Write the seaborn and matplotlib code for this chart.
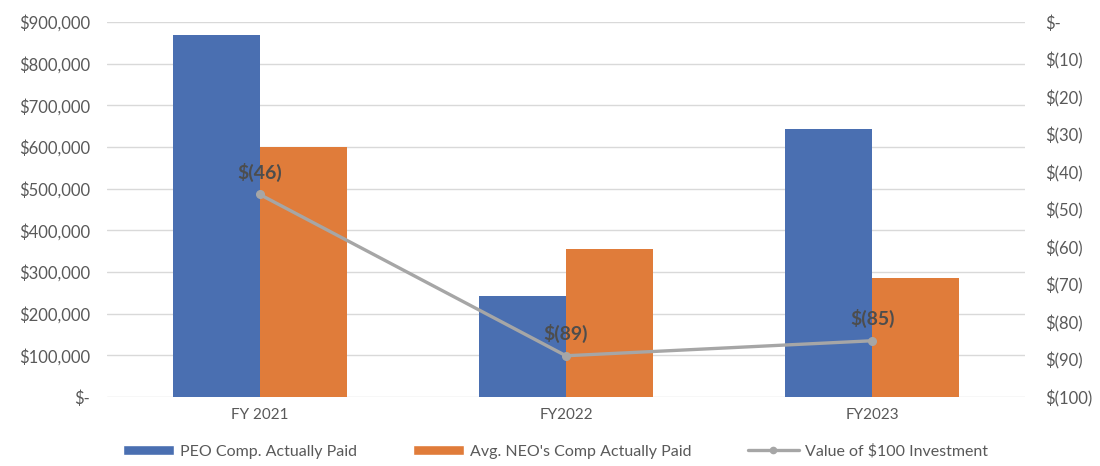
import matplotlib
matplotlib.use("Agg")
import matplotlib.pyplot as plt
import seaborn as sns
import pandas as pd
from matplotlib.patches import Patch
from matplotlib.lines import Line2D

# data
years = ["FY 2021", "FY2022", "FY2023"]
peo_paid = [869000, 243000, 642000]
neo_paid = [599000, 356000, 286000]
tsr_value = [-46, -89, -85]

series_names = ["PEO Comp. Actually Paid", "Avg. NEO's Comp Actually Paid"]
line_name = "Value of $100 Investment"

blue = "#4A6FB1"
orange = "#E07C3A"
grey_line = "#A6A6A6"
txt = "#595959"

df = pd.DataFrame({
    "year": years * 2,
    "series": [series_names[0]] * 3 + [series_names[1]] * 3,
    "value": peo_paid + neo_paid,
})

sns.set_style("white")
plt.rcParams["font.family"] = ["Lato", "DejaVu Sans"]

fig, ax = plt.subplots(figsize=(11, 4.66), dpi=100)
fig.subplots_adjust(left=0.097, right=0.932, top=0.953, bottom=0.148)

sns.barplot(data=df, x="year", y="value", hue="series", order=years,
            hue_order=series_names, palette=[blue, orange],
            width=0.57, gap=0, ax=ax, legend=False, saturation=1, linewidth=0)

ax.set_ylim(0, 900000)
ax.set_xlim(-0.5, 2.5)
ax.set_yticks(range(0, 900001, 100000))
ax.set_yticklabels(["$-" if v == 0 else f"${v:,.0f}" for v in range(0, 900001, 100000)])
ax.yaxis.grid(True, color="#D9D9D9", linewidth=1)
ax.set_axisbelow(True)
ax.set_xlabel("")
ax.set_ylabel("")
for s in ax.spines.values():
    s.set_visible(False)
ax.tick_params(axis="y", length=0, labelsize=12, labelcolor=txt, pad=12)
ax.tick_params(axis="x", length=0, labelsize=11, labelcolor=txt, pad=8)

ax2 = ax.twinx()
ax2.plot(range(len(years)), tsr_value, color=grey_line, linewidth=2.4,
         marker="o", markersize=5.5)
ax2.set_ylim(-100, 0)
ticks = list(range(-100, 1, 10))
ax2.set_yticks(ticks)
ax2.set_yticklabels(["$-" if t == 0 else f"$({-t})" for t in ticks])
for s in ax2.spines.values():
    s.set_visible(False)
ax2.tick_params(axis="y", length=0, labelsize=12, labelcolor=txt, pad=14)

for i, v in enumerate(tsr_value):
    ax2.annotate(f"$({-v})", (i, v), xytext=(0, 9), textcoords="offset points",
                 ha="center", va="bottom", fontsize=14, fontweight="bold",
                 color="#4D4D4D")

handles = [
    Patch(facecolor=blue, label=series_names[0]),
    Patch(facecolor=orange, label=series_names[1]),
    Line2D([0], [0], color=grey_line, linewidth=2.4, marker="o", markersize=4.5,
           label=line_name),
]
fig.legend(handles=handles, loc="lower center", ncol=3, frameon=False,
           bbox_to_anchor=(0.505, -0.015), fontsize=11.5, labelcolor=txt,
           handlelength=3.2, handleheight=0.6, handletextpad=0.4,
           columnspacing=3.5)

fig.savefig("out.png", dpi=100)
